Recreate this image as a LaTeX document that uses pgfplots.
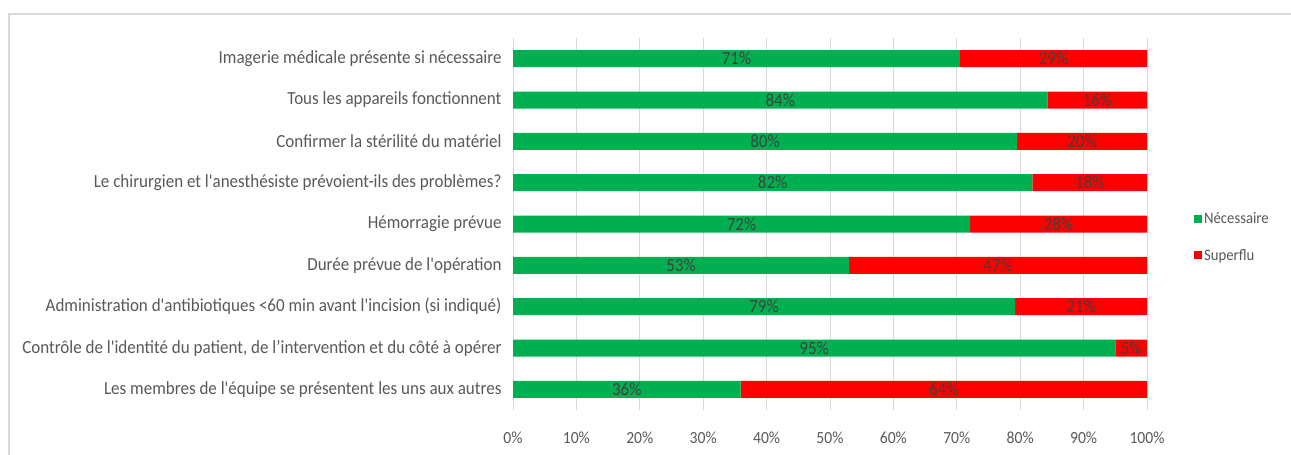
\documentclass[border=0pt]{standalone}
\usepackage{pgfplots}
\usepackage{pgfplotstable}
\pgfplotsset{compat=1.18}
\usepackage{fontspec}
\setmainfont{Carlito}[FakeStretch=0.92, Ligatures=TeXOff]
\definecolor{necgreen}{HTML}{00B050}
\definecolor{supred}{HTML}{FF0000}
\definecolor{lblgray}{HTML}{595959}
\definecolor{datgray}{HTML}{404040}
\definecolor{gridgray}{HTML}{D9D9D9}

\pgfplotstableread{
idx nec sup neclab suplab
0 35.9 64.1 36\% 64\%
1 95.0 5.0 95\% 5\%
2 79.2 20.8 79\% 21\%
3 53.0 47.0 53\% 47\%
4 72.1 27.9 72\% 28\%
5 81.9 18.1 82\% 18\%
6 79.5 20.5 80\% 20\%
7 84.3 15.7 84\% 16\%
8 70.5 29.5 71\% 29\%
}\data

\begin{document}
\begin{tikzpicture}
\useasboundingbox (0,0) rectangle (1291bp,455bp);
\draw[gridgray, line width=2.5bp] (9bp,0) -- (9bp,441bp) -- (1295bp,441bp);
\begin{axis}[
  at={(513bp,45bp)}, anchor=south west,
  width=634bp, height=372bp, scale only axis,
  xmin=0, xmax=100, ymin=-0.5, ymax=8.5,
  xbar stacked, bar width=17bp,
  axis line style={draw=none},
  xmajorgrids, grid style={gridgray, line width=1bp},
  major tick length=0pt,
  xtick={0,10,...,100},
  xticklabel={\pgfmathprintnumber{\tick}\%},
  /pgf/number format/assume math mode=true,
  ytick={0,...,8},
  yticklabels={
    Les membres de l'équipe se présentent les uns aux autres,
    {Contrôle de l'identité du patient, de l’intervention et du côté à opérer},
    Administration d'antibiotiques <60 min avant l'incision (si indiqué),
    Durée prévue de l'opération,
    Hémorragie prévue,
    Le chirurgien et l'anesthésiste prévoient-ils des problèmes?,
    Confirmer la stérilité du matériel,
    Tous les appareils fonctionnent,
    Imagerie médicale présente si nécessaire},
  tick label style={text=lblgray},
  yticklabel style={font=\fontsize{18.5bp}{21bp}\selectfont, xshift=-8bp},
  xticklabel style={font=\fontsize{17bp}{20bp}\selectfont, yshift=-18bp},
  legend style={at={(1.074,0.465)}, anchor=west, draw=none, fill=none,
    font=\fontsize{16bp}{19bp}\selectfont, text=lblgray,
    row sep=20bp, inner sep=0pt, cells={anchor=west}},
  legend image code/.code={\fill[#1] (0bp,-4bp) rectangle (8bp,4bp);},
  nodes near coords,
  point meta=explicit symbolic,
  every node near coord/.append style={font=\fontsize{18.5bp}{21bp}\selectfont, text=datgray, anchor=center},
]
\addplot[fill=necgreen, draw=none]
  table[x=nec, y=idx, meta=neclab] {\data};
\addlegendentry{Nécessaire}
\addplot[fill=supred, draw=none]
  table[x=sup, y=idx, meta=suplab] {\data};
\addlegendentry{Superflu}
\end{axis}
\end{tikzpicture}
\end{document}
